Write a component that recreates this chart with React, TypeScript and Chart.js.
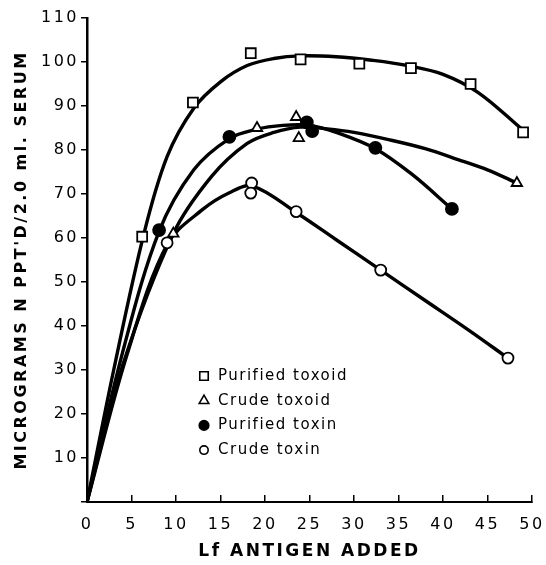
import React, { useEffect, useRef } from 'react';
import { Chart, registerables } from 'chart.js';
import { drawPoint } from 'chart.js/helpers';

Chart.register(...registerables);

// ---- Axis settings ----
const xMin = 0;
const xMax = 50;
const xStep = 5;
const yMin = 0;
const yMax = 110;
const yStep = 10;
const xTitle = 'Lf ANTIGEN ADDED';
const yTitle = "MICROGRAMS N PPT'D/2.0 ml. SERUM";

// ---- Observed points (markers) ----
const purifiedToxoidX = [6.2, 11.9, 18.4, 24.0, 30.6, 36.4, 43.1, 49.0];
const purifiedToxoidY = [60.3, 90.8, 102.0, 100.6, 99.6, 98.6, 95.0, 84.0];

const crudeToxoidX = [9.7, 19.1, 23.5, 23.8, 48.3];
const crudeToxoidY = [61.0, 85.0, 87.5, 82.7, 72.5];

const purifiedToxinX = [8.1, 16.0, 24.7, 25.3, 32.4, 41.0];
const purifiedToxinY = [61.8, 83.0, 86.3, 84.3, 80.5, 66.6];

const crudeToxinX = [9.0, 18.5, 18.4, 23.5, 33.0, 47.3];
const crudeToxinY = [58.9, 72.5, 70.2, 66.0, 52.7, 32.7];

// ---- Fitted curves ----
const purifiedToxoidCurveX = [0, 3, 6.4, 9, 12, 15, 18, 21, 24, 28, 32, 36, 40, 44, 49];
const purifiedToxoidCurveY = [0, 30, 61, 78.5, 89.5, 95.5, 99.2, 100.8, 101.4, 101.2, 100.4, 99.2, 97.2, 93, 84.5];

const crudeToxoidCurveX = [0, 4, 9.7, 14, 18, 21, 24, 27, 30, 34, 38, 42, 45, 48.3];
const crudeToxoidCurveY = [0, 31, 61, 74, 81.5, 84, 85.2, 84.8, 84, 82.3, 80.3, 77.6, 75.5, 72.5];

const purifiedToxinCurveX = [0, 4, 8.1, 12, 16, 19, 22, 25, 28, 32.4, 36.5, 41];
const purifiedToxinCurveY = [0, 34, 61.5, 75.5, 82.6, 84.7, 85.6, 85.6, 84, 80.3, 74.5, 66.6];

const crudeToxinCurveX = [0, 4.5, 9, 13, 16, 18.6, 23.5, 28, 33, 38, 43, 47.3];
const crudeToxinCurveY = [0, 33.5, 58.5, 66.5, 70.3, 71.8, 65.8, 59.6, 52.7, 45.8, 38.9, 32.7];

const seriesLabels = ['Purified toxoid', 'Crude toxoid', 'Purified toxin', 'Crude toxin'];
const seriesStyles = ['rect', 'triangle', 'circle', 'circle'];
const seriesFills = ['#ffffff', '#ffffff', '#000000', '#ffffff'];
const seriesRadii = [7, 6, 6, 5.5];
const legendRadii = [6, 5.5, 4.8, 4.2];

const zip = (xs: number[], ys: number[]) => xs.map((x, i) => ({ x, y: ys[i] }));

const FONT = '"DejaVu Sans", "Liberation Sans", sans-serif';

const spacingPlugin = {
  id: 'letterSpacing',
  beforeUpdate(chart: any) {
    chart.ctx.letterSpacing = '2.5px';
  },
  beforeDraw(chart: any) {
    chart.ctx.letterSpacing = '2.5px';
  },
};

const legendPlugin = {
  id: 'insetLegend',
  afterDraw(chart: any) {
    const { ctx, chartArea } = chart;
    const x0 = chartArea.left + 117;
    const y0 = chartArea.top + 358;
    const rowH = 24.7;
    ctx.save();
    ctx.letterSpacing = '1.5px';
    seriesLabels.forEach((label, i) => {
      const y = y0 + i * rowH;
      ctx.lineWidth = 1.6;
      ctx.strokeStyle = '#000';
      ctx.fillStyle = seriesFills[i];
      drawPoint(ctx, { pointStyle: seriesStyles[i], radius: legendRadii[i], rotation: 0, borderWidth: 1.6 } as any, x0, y);
      ctx.fillStyle = '#000';
      ctx.font = '15px ' + FONT;
      ctx.textBaseline = 'middle';
      ctx.textAlign = 'left';
      ctx.fillText(label, x0 + 14, y);
    });
    ctx.restore();
  },
};

export default function App() {
  const ref = useRef<HTMLCanvasElement | null>(null);

  useEffect(() => {
    if (!ref.current) return;
    const markerX = [purifiedToxoidX, crudeToxoidX, purifiedToxinX, crudeToxinX];
    const markerY = [purifiedToxoidY, crudeToxoidY, purifiedToxinY, crudeToxinY];
    const curveX = [purifiedToxoidCurveX, crudeToxoidCurveX, purifiedToxinCurveX, crudeToxinCurveX];
    const curveY = [purifiedToxoidCurveY, crudeToxoidCurveY, purifiedToxinCurveY, crudeToxinCurveY];

    const markerSets = seriesLabels.map((label, i) => ({
      label,
      data: zip(markerX[i], markerY[i]),
      showLine: false,
      pointStyle: seriesStyles[i],
      pointRadius: seriesRadii[i],
      pointHoverRadius: seriesRadii[i],
      pointBackgroundColor: seriesFills[i],
      pointBorderColor: '#000',
      pointBorderWidth: 1.8,
      order: 0,
    }));
    const curveSets = seriesLabels.map((label, i) => ({
      label: label + ' curve',
      data: zip(curveX[i], curveY[i]),
      showLine: true,
      borderColor: '#000',
      borderWidth: 3.4,
      pointRadius: 0,
      tension: 0.35,
      fill: false,
      order: 1,
    }));

    const chart = new Chart(ref.current, {
      type: 'scatter',
      data: { datasets: [...markerSets, ...curveSets] as any },
      plugins: [spacingPlugin, legendPlugin],
      options: {
        animation: false,
        responsive: false,
        events: [],
        layout: { padding: { left: 8, right: 14, top: 18, bottom: 0 } },
        plugins: {
          legend: { display: false },
          tooltip: { enabled: false },
          title: { display: false },
        },
        scales: {
          x: {
            type: 'linear',
            min: xMin,
            max: xMax,
            ticks: {
              stepSize: xStep,
              color: '#000',
              font: { family: FONT, size: 16 },
              padding: 20,
            },
            grid: {
              drawOnChartArea: false,
              drawTicks: true,
              tickLength: -7,
              color: '#000',
              lineWidth: 1.5,
            },
            border: { display: true, color: '#000', width: 2 },
            title: {
              display: true,
              text: xTitle,
              color: '#000',
              font: { family: FONT, size: 17, weight: 'bold' },
              padding: { top: 0, bottom: 3 },
            },
            afterFit(scale: any) {
              scale.height = 63;
              scale.paddingLeft = 0;
              scale.paddingRight = 0;
            },
          },
          y: {
            type: 'linear',
            min: yMin,
            max: yMax,
            ticks: {
              stepSize: yStep,
              color: '#000',
              font: { family: FONT, size: 16 },
              padding: 2,
              callback: (v: any) => (v === 0 ? '' : String(v)),
            },
            grid: {
              drawOnChartArea: false,
              drawTicks: true,
              tickLength: 6,
              color: '#000',
              lineWidth: 1.5,
            },
            border: { display: true, color: '#000', width: 2.5 },
            title: {
              display: true,
              text: yTitle,
              color: '#000',
              font: { family: FONT, size: 16, weight: 'bold' },
              padding: { top: 4, bottom: 0 },
            },
            afterFit(scale: any) {
              scale.width = 79;
              scale.paddingTop = 0;
              scale.paddingBottom = 0;
            },
          },
        },
      } as any,
    });
    return () => chart.destroy();
  }, []);

  return (
    <div style={{ position: 'absolute', left: 0, top: 0, width: 546, height: 565, background: '#fff' }}>
      <canvas ref={ref} width={546} height={565} style={{ display: 'block' }} />
    </div>
  );
}
